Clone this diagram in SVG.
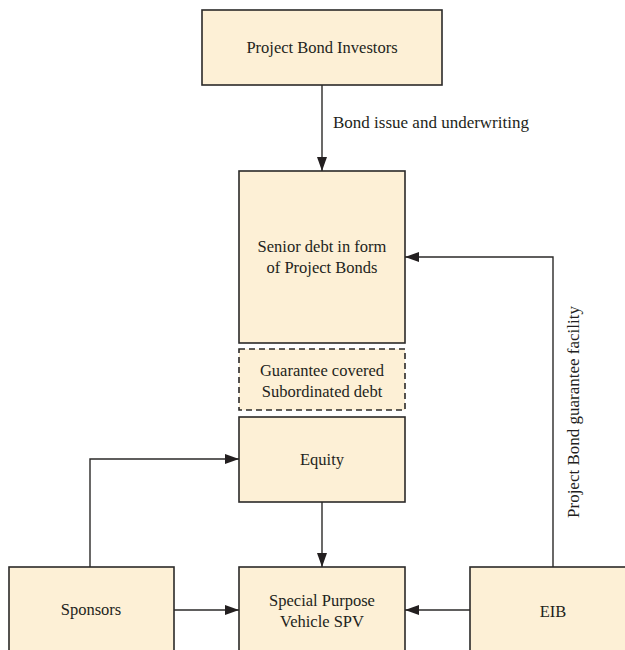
<svg xmlns="http://www.w3.org/2000/svg" width="625" height="650" viewBox="0 0 625 650">
<style>
.box{fill:#fdf0d6;stroke:#2b2a29;stroke-width:1.6}
.dash{stroke-dasharray:6 4}
.t{font-family:"Liberation Serif","Times New Roman",serif;font-size:16.5px;fill:#231f20;text-anchor:middle}
.lbl{font-family:"Liberation Serif","Times New Roman",serif;font-size:17px;fill:#231f20}
.c{fill:none;stroke:#2b2a29;stroke-width:1.4}
</style>
<defs>
<marker id="ah" viewBox="0 0 14 10" refX="14" refY="5" markerWidth="14" markerHeight="10" markerUnits="userSpaceOnUse" orient="auto">
<path d="M0,0 L14,5 L0,10 Z" fill="#231f20"/>
</marker>
</defs>
<rect width="625" height="650" fill="#ffffff"/>
<g id="investors"><rect class="box" x="202" y="10" width="240" height="75"/><text class="t" x="322" y="53">Project Bond Investors</text></g>
<g id="senior"><rect class="box" x="239" y="171" width="166" height="172"/><text class="t" x="322" y="252">Senior debt in form</text><text class="t" x="322" y="273">of Project Bonds</text></g>
<g id="subordinated"><rect class="box dash" x="239" y="349" width="166" height="61"/><text class="t" x="322" y="376">Guarantee covered</text><text class="t" x="322" y="397">Subordinated debt</text></g>
<g id="equity"><rect class="box" x="239" y="417" width="166" height="85"/><text class="t" x="322" y="465">Equity</text></g>
<g id="sponsors"><rect class="box" x="9" y="567" width="165" height="100"/><text class="t" x="91" y="615">Sponsors</text></g>
<g id="spv"><rect class="box" x="239" y="567" width="166" height="100"/><text class="t" x="322" y="606">Special Purpose</text><text class="t" x="322" y="627">Vehicle SPV</text></g>
<g id="eib"><rect class="box" x="470" y="567" width="165" height="100"/><text class="t" x="553" y="617">EIB</text></g>
<g id="connectors">
<path class="c" d="M322,85 V171" marker-end="url(#ah)"/>
<text class="lbl" x="333" y="128">Bond issue and underwriting</text>
<path class="c" d="M553,567 V257 H405" marker-end="url(#ah)"/>
<text class="lbl" transform="translate(579,412) rotate(-90)" text-anchor="middle">Project Bond guarantee facility</text>
<path class="c" d="M90,567 V459 H239" marker-end="url(#ah)"/>
<path class="c" d="M322,502 V567" marker-end="url(#ah)"/>
<path class="c" d="M174,610 H239" marker-end="url(#ah)"/>
<path class="c" d="M470,610 H405" marker-end="url(#ah)"/>
</g>
</svg>
